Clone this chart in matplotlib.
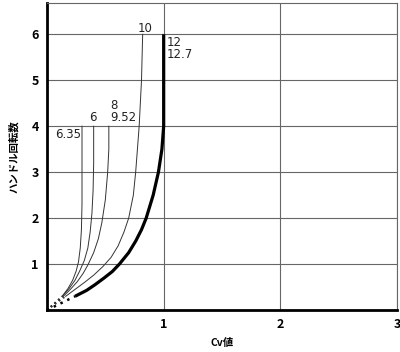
import matplotlib.pyplot as plt

plt.rcParams['font.family'] = ['Noto Sans CJK JP', 'DejaVu Sans']

# 各曲線 (Cv値, ハンドル回転数)
x_635 = [0.13, 0.18, 0.22, 0.25, 0.27, 0.285, 0.295, 0.30, 0.30]
y_635 = [0.30, 0.47, 0.65, 0.85, 1.05, 1.35, 1.75, 2.30, 4.00]
x_6 = [0.13, 0.19, 0.24, 0.28, 0.32, 0.35, 0.37, 0.385, 0.395, 0.40, 0.40]
y_6 = [0.30, 0.47, 0.65, 0.85, 1.08, 1.35, 1.70, 2.10, 2.60, 3.20, 4.00]
x_8 = [0.14, 0.20, 0.26, 0.31, 0.35, 0.40, 0.44, 0.47, 0.50, 0.52, 0.53, 0.53]
y_8 = [0.30, 0.45, 0.62, 0.80, 0.98, 1.25, 1.55, 1.90, 2.40, 3.00, 3.50, 4.00]
x_10 = [0.16, 0.24, 0.32, 0.40, 0.48, 0.55, 0.61, 0.66, 0.70, 0.74, 0.76, 0.79, 0.81, 0.82]
y_10 = [0.30, 0.45, 0.60, 0.76, 0.95, 1.15, 1.40, 1.70, 2.00, 2.50, 3.00, 4.00, 5.00, 6.00]
x_12 = [0.24, 0.34, 0.41, 0.49, 0.56, 0.62, 0.70, 0.76, 0.81, 0.85, 0.91, 0.955, 0.985, 1.00, 1.00]
y_12 = [0.30, 0.43, 0.55, 0.70, 0.84, 1.00, 1.25, 1.50, 1.75, 2.00, 2.50, 3.00, 3.50, 4.00, 6.00]

thin_curves = [(x_635, y_635), (x_6, y_6), (x_8, y_8), (x_10, y_10)]

fig = plt.figure(figsize=(4.0, 3.52), dpi=100)
ax = fig.add_axes([0.1175, 0.119, 0.875, 0.8725])

for xs, ys in thin_curves:
    ax.plot(xs, ys, color='#333333', lw=0.7)
    ax.plot([0, xs[0]], [0, ys[0]], color='#333333', lw=1.2, ls=(0, (1, 2)))
ax.plot(x_12, y_12, color='black', lw=2.3, solid_capstyle='butt')
ax.plot([0, x_12[0]], [0, y_12[0]], color='black', lw=1.8, ls=(0, (1, 2)))

# ラベル
lab = dict(fontsize=8.5, color='#222222', family=['DejaVu Sans'])
ax.text(0.29, 3.83, '6.35', ha='right', va='center', **lab)
ax.text(0.39, 4.2, '6', ha='center', va='center', **lab)
ax.text(0.57, 4.45, '8', ha='center', va='center', **lab)
ax.text(0.54, 4.2, '9.52', ha='left', va='center', **lab)
ax.text(0.78, 6.13, '10', ha='left', va='center', **lab)
ax.text(1.03, 5.82, '12', ha='left', va='center', **lab)
ax.text(1.03, 5.55, '12.7', ha='left', va='center', **lab)

ax.set_xlim(0, 3)
ax.set_ylim(0, 6.68)
ax.set_xticks([1, 2, 3])
ax.set_yticks([1, 2, 3, 4, 5, 6])
ax.grid(True, color='#666666', lw=0.8)
ax.tick_params(length=0, labelsize=9, pad=6)
for t in ax.get_xticklabels() + ax.get_yticklabels():
    t.set_fontweight('bold')

for s in ['left', 'bottom']:
    ax.spines[s].set_linewidth(2)
    ax.spines[s].set_color('black')
for s in ['top', 'right']:
    ax.spines[s].set_linewidth(0.8)
    ax.spines[s].set_color('#666666')

ax.set_xlabel('Cv値', fontsize=7.5, fontweight='bold', labelpad=5)
ax.set_ylabel('ハンドル回転数', fontsize=7.5, fontweight='bold', labelpad=9)

fig.savefig('out.png', dpi=100)
